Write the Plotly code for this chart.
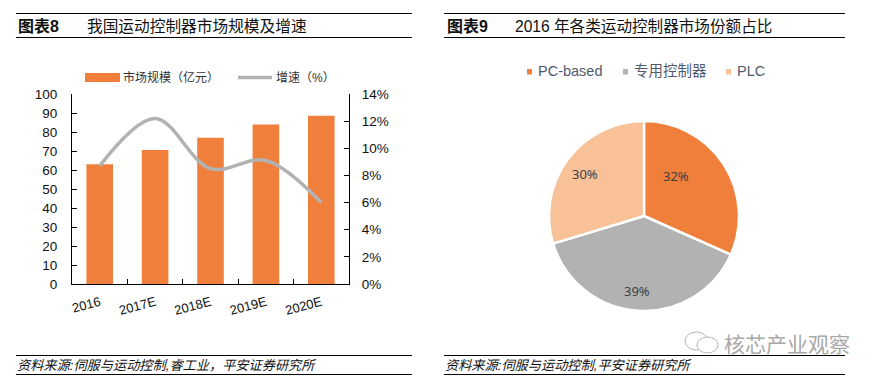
import plotly.graph_objects as go

W, H = 879, 382
categories = ["2016", "2017E", "2018E", "2019E", "2020E"]
market_size = [63, 70.5, 77, 84, 88.5]
growth = [8.7, 12.2, 8.5, 9.1, 6.0]
pie_labels = ["PC-based", "专用控制器", "PLC"]
pie_values = [32, 39, 30]
left_ticks = [0, 10, 20, 30, 40, 50, 60, 70, 80, 90, 100]
right_ticks = [0, 2, 4, 6, 8, 10, 12, 14]

ORANGE, GRAY, PEACH = "#F07F3C", "#B2B2B2", "#F8C198"
FONT = "Liberation Sans, Noto Sans CJK SC, sans-serif"
px = lambda v: v / W
py = lambda v: 1 - v / H

fig = go.Figure()
fig.add_bar(x=categories, y=market_size, name="市场规模（亿元）", marker_color=ORANGE,
            marker_line_width=0, showlegend=False)
fig.add_scatter(x=categories, y=growth, name="增速（%）", yaxis="y2", mode="lines",
                line=dict(color=GRAY, width=3.5, shape="spline", smoothing=1.0), showlegend=False)
fig.add_pie(labels=pie_labels, values=pie_values, sort=False, direction="clockwise", rotation=0,
            marker=dict(colors=[ORANGE, GRAY, PEACH], line=dict(color="white", width=2.5)),
            textinfo="none", showlegend=False,
            domain=dict(x=[px(549), px(739)], y=[py(311), py(121)]))

axis_common = dict(showgrid=False, zeroline=False, showline=True, linecolor="black", linewidth=1,
                   ticks="inside", ticklen=5, tickcolor="black",
                   tickfont=dict(size=13.5, color="#111111", family=FONT))
fig.update_layout(
    width=W, height=H, margin=dict(l=0, r=0, t=0, b=0, autoexpand=False), paper_bgcolor="white", plot_bgcolor="white",
    bargap=0.52, showlegend=False, font=dict(family=FONT),
    xaxis=dict(domain=[px(72), px(349)], anchor="y", tickangle=-15, type="category", tickson="boundaries",
               ticklabelstandoff=5,
               **{**axis_common, "tickfont": dict(size=13, color="#111111", family=FONT)}),
    yaxis=dict(domain=[py(284), py(94)], range=[0, 100], tickvals=left_ticks, ticklabelstandoff=11, **axis_common),
    yaxis2=dict(domain=[py(284), py(94)], range=[0, 14], overlaying="y", side="right", anchor="x",
                tickvals=right_ticks, ticktext=[f"{t}%" for t in right_ticks], ticklabelstandoff=9, **axis_common),
)

for x0, x1 in [(16, 412), (444, 845)]:
    for y, w in [(13.5, 1), (37.5, 1), (355.5, 1), (374.5, 1)]:
        fig.add_shape(type="line", xref="paper", yref="paper", x0=px(x0), x1=px(x1), y0=py(y), y1=py(y),
                      line=dict(color="black", width=w))

def text(x, y, s, size, color="#111111", bold=False, italic=False, anchor="left", family=FONT):
    if bold:
        s = f"<b>{s}</b>"
    if italic:
        s = f"<i>{s}</i>"
    fig.add_annotation(text=s, xref="paper", yref="paper", x=px(x), y=py(y), xanchor=anchor, yanchor="middle",
                       showarrow=False, font=dict(size=size, color=color, family=family),
                       xshift=0, borderpad=0, borderwidth=0)

def rect(x0, x1, y0, y1, color):
    fig.add_shape(type="rect", xref="paper", yref="paper", x0=px(x0), x1=px(x1), y0=py(y0), y1=py(y1),
                  fillcolor=color, line=dict(width=0))

# left legend
rect(85, 120, 73, 82, ORANGE)
text(123, 77.5, "市场规模（亿元）", 12, color="#333333")
fig.add_shape(type="line", xref="paper", yref="paper", x0=px(238), x1=px(272), y0=py(77.5), y1=py(77.5),
              line=dict(color=GRAY, width=3.5))
text(276, 77.5, "增速（%）", 12, color="#333333")

# pie legend
for sx, tx, name, col in zip([527, 623, 726], [538, 634, 737], pie_labels, [ORANGE, GRAY, PEACH]):
    rect(sx, sx + 5, 69, 74.5, col)
    text(tx, 71.5, name, 14.5, color="#505A6E")

# pie value labels
for lx, ly, v in zip([676, 637, 585], [176, 291, 174], pie_values):
    text(lx, ly, f"{v}%", 13, color="#404040", anchor="center", family="Noto Sans, sans-serif")

text(18, 26, "图表8", 16, bold=True)
text(87, 26, "我国运动控制器市场规模及增速", 15.7)
text(447, 26, "图表9", 16, bold=True)
text(515, 26, "2016 年各类运动控制器市场份额占比", 15.6)
text(17, 365, "资料来源:伺服与运动控制,睿工业，平安证券研究所", 13.2, italic=True)
text(445, 365, "资料来源:伺服与运动控制,平安证券研究所", 13.2, italic=True)

# watermark
for x0, x1, y0, y1 in [(685, 708, 332, 350), (697, 718, 337, 353)]:
    fig.add_shape(type="circle", xref="paper", yref="paper", x0=px(x0), x1=px(x1), y0=py(y1), y1=py(y0),
                  fillcolor="white", line=dict(color="#B5B5B5", width=1))
text(724, 344, "核芯产业观察", 21, color="#A8A8A8")

fig.write_html("out.html", post_script="document.body.style.margin='0';", config={"displayModeBar": False})
